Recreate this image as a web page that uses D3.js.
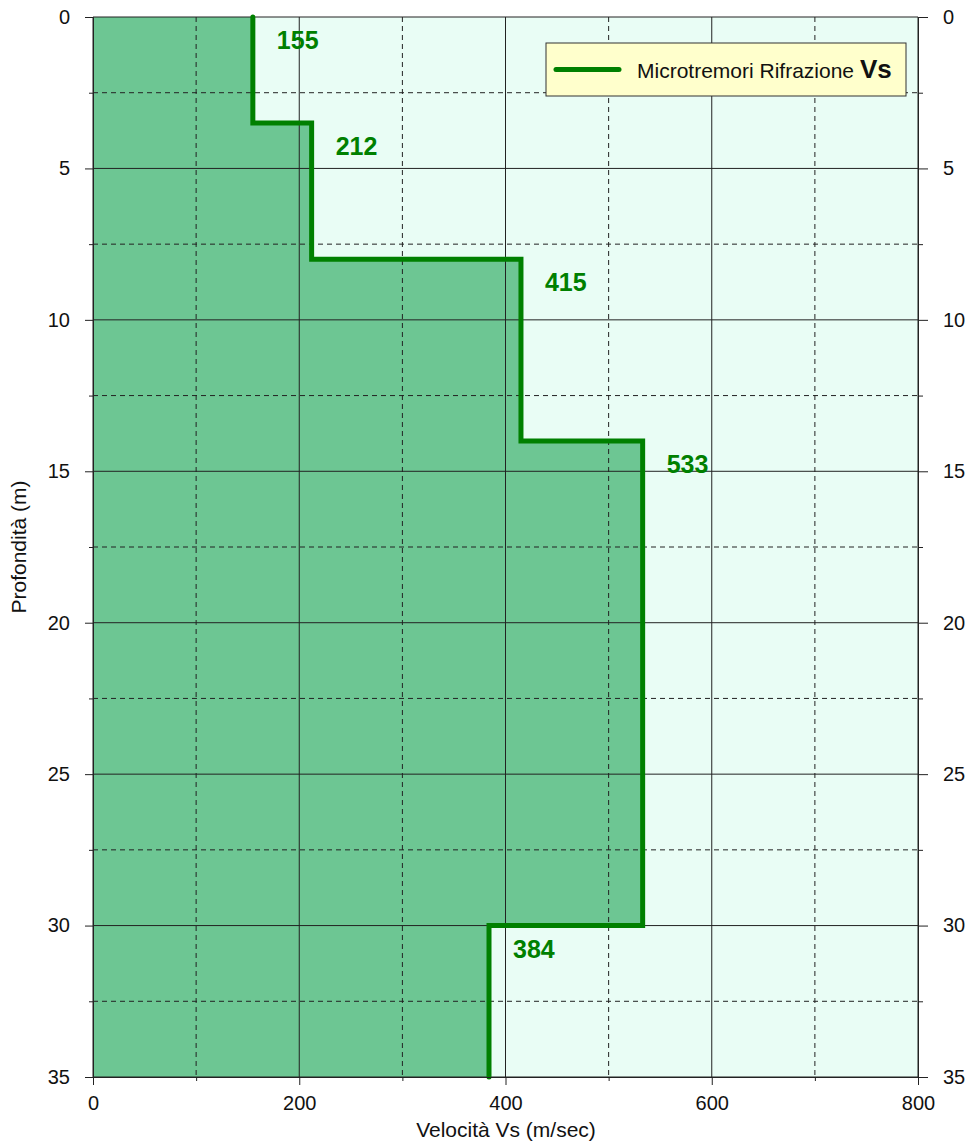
<!DOCTYPE html>
<html>
<head>
<meta charset="utf-8">
<script src="https://cdn.jsdelivr.net/npm/d3@7"></script>
<style>
  body { margin: 0; background: #fff; }
  svg text { font-family: "Liberation Sans", Arial, sans-serif; }
</style>
</head>
<body>
<div id="chart"></div>
<script>
// layer data (depth in m, Vs in m/sec)
var depthTop = [0, 3.5, 8, 14, 30];
var depthBottom = [3.5, 8, 14, 30, 35];
var vsValues = [155, 212, 415, 533, 384];

var xMajorTicks = [0, 200, 400, 600, 800];
var xMinorTicks = [100, 300, 500, 700];
var yMajorTicks = [0, 5, 10, 15, 20, 25, 30, 35];
var yMinorTicks = [2.5, 7.5, 12.5, 17.5, 22.5, 27.5, 32.5];

var legendLabel = 'Microtremori Rifrazione ';
var legendBold = 'Vs';
var xTitle = 'Velocità Vs (m/sec)';
var yTitle = 'Profondità (m)';

var WIDTH = 968, HEIGHT = 1144;
var MARGINS = {top: 17, right: 50, bottom: 67, left: 93};
var plotW = 918 - MARGINS.left;
var plotH = 1077 - MARGINS.top;

var LINE_COLOR = '#008000';
var TICK_FONT = 20;

var svg = d3.select('#chart').append('svg')
    .attr('width', WIDTH)
    .attr('height', HEIGHT);

var g = svg.append('g')
    .attr('transform', 'translate(' + MARGINS.left + ',' + MARGINS.top + ')');

var x = d3.scaleLinear().domain([0, 800]).range([0, plotW]);
var y = d3.scaleLinear().domain([0, 35]).range([0, plotH]);

// background
g.append('rect')
    .attr('width', plotW)
    .attr('height', plotH)
    .attr('fill', '#e9fdf5');

// build profile points
var profile = [];
vsValues.forEach(function(v, i) {
    profile.push([v, depthTop[i]]);
    profile.push([v, depthBottom[i]]);
});

var lineGen = d3.line()
    .x(function(d) { return x(d[0]); })
    .y(function(d) { return y(d[1]); });

// filled area left of the profile
var areaPts = [[0, 0]].concat(profile).concat([[0, 35]]);
g.append('path')
    .attr('d', lineGen(areaPts) + 'Z')
    .attr('fill', '#6dc693');

// minor grid (dashed)
g.selectAll('.vminor').data(xMinorTicks).enter().append('line')
    .attr('x1', function(d) { return x(d); }).attr('x2', function(d) { return x(d); })
    .attr('y1', 0).attr('y2', plotH)
    .attr('stroke', '#222').attr('stroke-width', 1).attr('stroke-dasharray', '5,4');
g.selectAll('.hminor').data(yMinorTicks).enter().append('line')
    .attr('y1', function(d) { return y(d); }).attr('y2', function(d) { return y(d); })
    .attr('x1', 0).attr('x2', plotW)
    .attr('stroke', '#222').attr('stroke-width', 1).attr('stroke-dasharray', '5,4');

// major grid (solid)
g.selectAll('.vmajor').data(xMajorTicks).enter().append('line')
    .attr('x1', function(d) { return x(d); }).attr('x2', function(d) { return x(d); })
    .attr('y1', 0).attr('y2', plotH)
    .attr('stroke', '#222').attr('stroke-width', 1);
g.selectAll('.hmajor').data(yMajorTicks).enter().append('line')
    .attr('y1', function(d) { return y(d); }).attr('y2', function(d) { return y(d); })
    .attr('x1', 0).attr('x2', plotW)
    .attr('stroke', '#222').attr('stroke-width', 1);

// step profile line
g.append('path')
    .attr('d', lineGen(profile))
    .attr('fill', 'none')
    .attr('stroke', LINE_COLOR)
    .attr('stroke-width', 5)
    .attr('stroke-linecap', 'round');

// value labels
g.selectAll('.vlabel').data(vsValues).enter().append('text')
    .attr('x', function(d) { return x(d) + 24; })
    .attr('y', function(d, i) { return y(depthTop[i]) + 32; })
    .attr('fill', LINE_COLOR)
    .attr('font-size', 25)
    .attr('font-weight', 'bold')
    .text(function(d) { return d; });

// axes
function styleAxis(sel) {
    sel.attr('font-size', TICK_FONT).attr('font-family', '"Liberation Sans", Arial, sans-serif');
    sel.selectAll('text').attr('fill', '#111');
    sel.selectAll('line').attr('stroke', '#222');
    sel.select('.domain').attr('stroke', '#222');
}

g.append('g')
    .attr('transform', 'translate(0,' + plotH + ')')
    .call(d3.axisBottom(x).tickValues(xMajorTicks).tickSize(8).tickSizeOuter(0).tickPadding(11).tickFormat(d3.format('d')))
    .call(styleAxis);
g.append('g')
    .attr('transform', 'translate(0,' + plotH + ')')
    .call(d3.axisBottom(x).tickValues(xMinorTicks).tickSize(4).tickSizeOuter(0).tickFormat(''))
    .call(styleAxis);

g.append('g')
    .call(d3.axisLeft(y).tickValues(yMajorTicks).tickSize(8).tickSizeOuter(0).tickPadding(15).tickFormat(d3.format('d')))
    .call(styleAxis);
g.append('g')
    .call(d3.axisLeft(y).tickValues(yMinorTicks).tickSize(4).tickSizeOuter(0).tickFormat(''))
    .call(styleAxis);

g.append('g')
    .attr('transform', 'translate(' + plotW + ',0)')
    .call(d3.axisRight(y).tickValues(yMajorTicks).tickSize(10).tickSizeOuter(0).tickPadding(15).tickFormat(d3.format('d')))
    .call(styleAxis);
g.append('g')
    .attr('transform', 'translate(' + plotW + ',0)')
    .call(d3.axisRight(y).tickValues(yMinorTicks).tickSize(5).tickSizeOuter(0).tickFormat(''))
    .call(styleAxis);

// axis titles
svg.append('text')
    .attr('x', 506)
    .attr('y', 1137)
    .attr('text-anchor', 'middle')
    .attr('font-size', 21)
    .attr('fill', '#111')
    .text(xTitle);

svg.append('text')
    .attr('transform', 'translate(26,547) rotate(-90)')
    .attr('text-anchor', 'middle')
    .attr('font-size', 21)
    .attr('fill', '#111')
    .text(yTitle);

// legend
var legend = svg.append('g').attr('transform', 'translate(546,43)');
legend.append('rect')
    .attr('width', 360)
    .attr('height', 53)
    .attr('fill', '#ffffcc')
    .attr('stroke', '#333')
    .attr('stroke-width', 1);
legend.append('line')
    .attr('x1', 10).attr('x2', 73)
    .attr('y1', 26.5).attr('y2', 26.5)
    .attr('stroke', LINE_COLOR)
    .attr('stroke-width', 5)
    .attr('stroke-linecap', 'round');
var lt = legend.append('text')
    .attr('x', 91)
    .attr('y', 35)
    .attr('font-size', 21)
    .attr('fill', '#111');
lt.append('tspan').text(legendLabel);
lt.append('tspan').attr('font-weight', 'bold').attr('font-size', 26).text(legendBold);
</script>
</body>
</html>
